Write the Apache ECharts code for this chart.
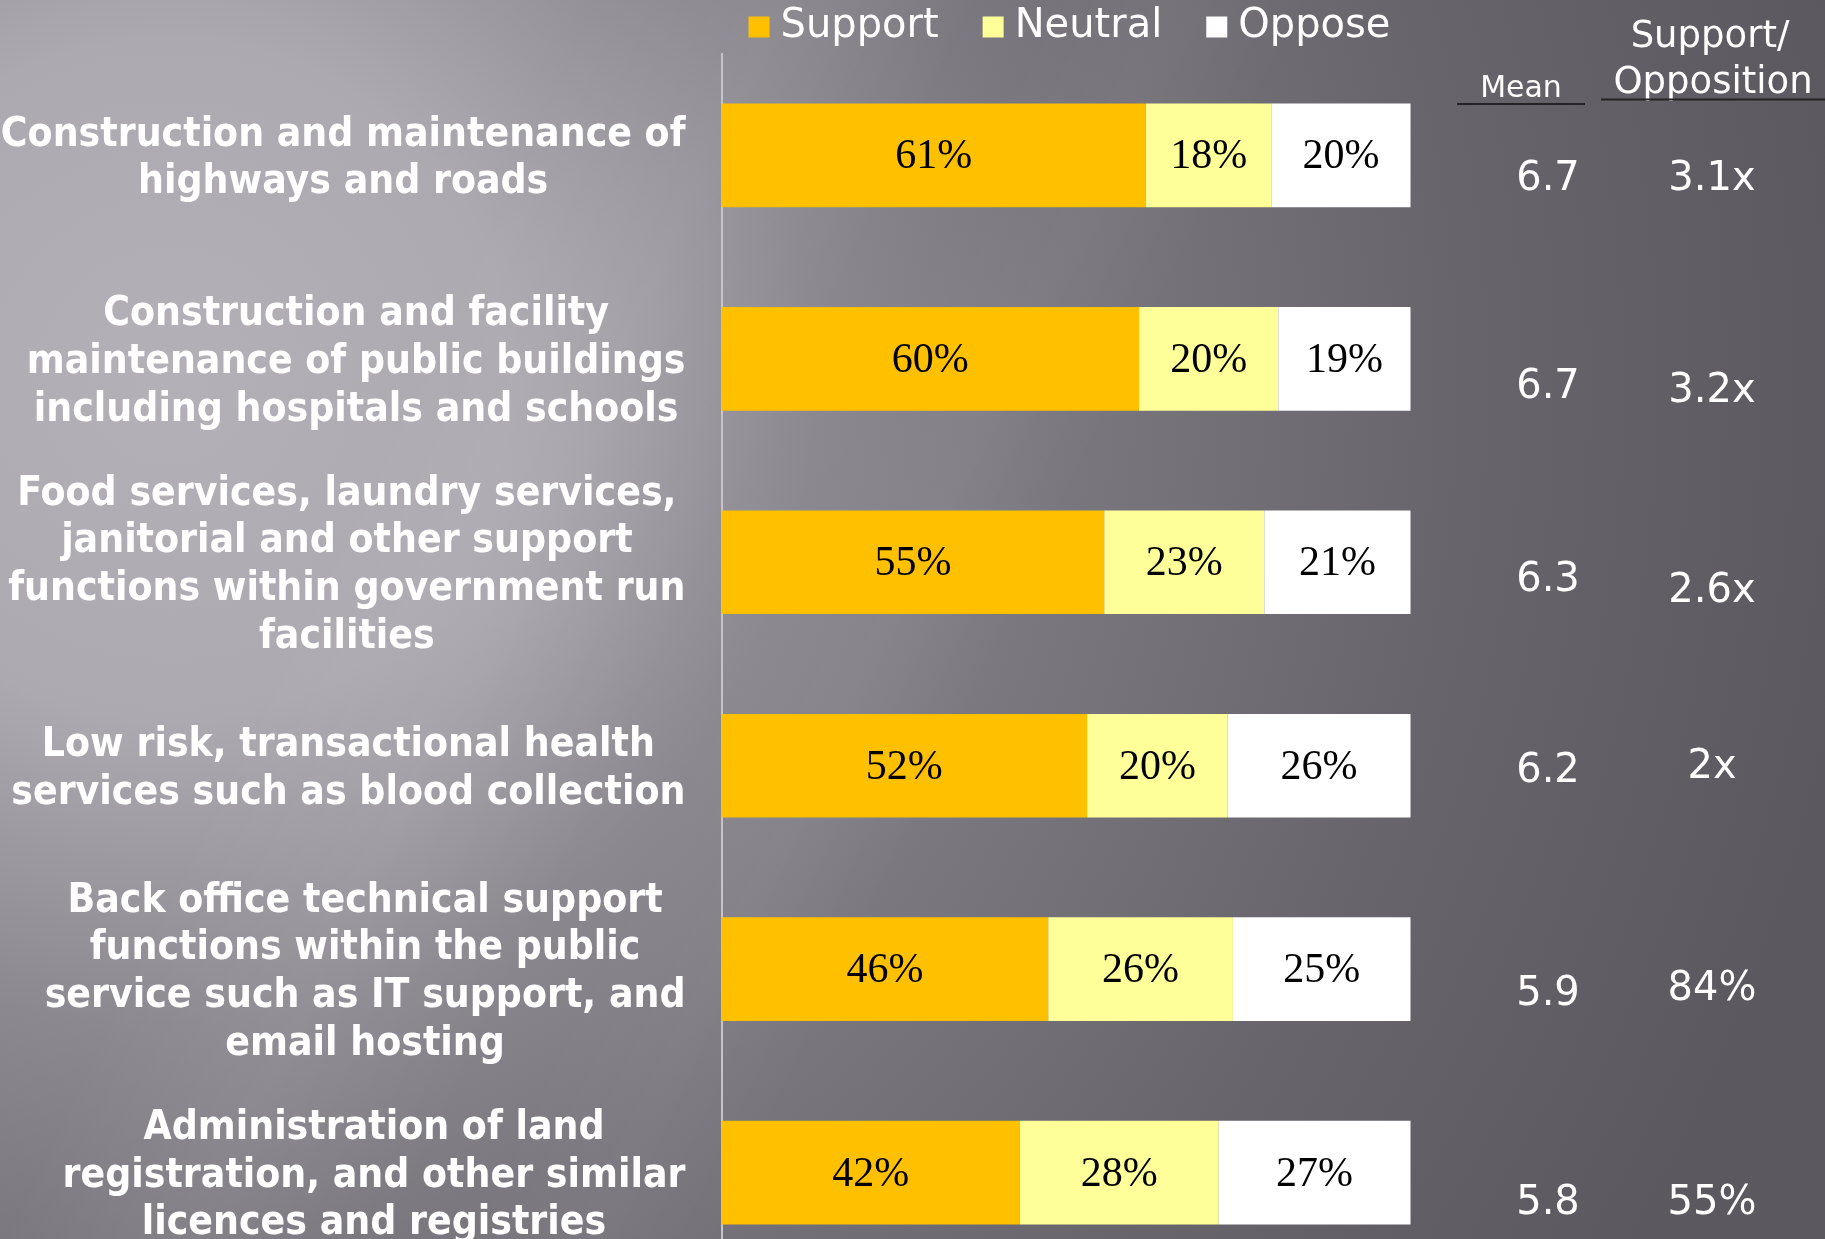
<!DOCTYPE html>
<html>
<head>
<meta charset="utf-8">
<script src="https://cdn.jsdelivr.net/npm/echarts@6/dist/echarts.min.js"></script>
<style>
  html, body { margin: 0; padding: 0; background: #6e6c72; }
  #chart { width: 1825px; height: 1239px; }
</style>
</head>
<body>
<div id="chart"></div>
<script>
// Outsourcing survey: share who support / are neutral / oppose, per service area
const categories = [
  'Construction and maintenance of\nhighways and roads',
  'Construction and facility\nmaintenance of public buildings\nincluding hospitals and schools',
  'Food services, laundry services,\njanitorial and other support\nfunctions within government run\nfacilities',
  'Low risk, transactional health\nservices such as blood collection',
  'Back office technical support\nfunctions within the public\nservice such as IT support, and\nemail hosting',
  'Administration of land\nregistration, and other similar\nlicences and registries'
];
const seriesNames = ['Support', 'Neutral', 'Oppose'];
const support = [61, 60, 55, 52, 46, 42];
const neutral = [18, 20, 23, 20, 26, 28];
const oppose  = [20, 19, 21, 26, 25, 27];
const means   = [6.7, 6.7, 6.3, 6.2, 5.9, 5.8];
const ratios  = ['3.1x', '3.2x', '2.6x', '2x', '84%', '55%'];

// Layout of the side columns (pixel rows of the Mean and Support/Opposition texts)
const meanRowY  = [180, 388, 581, 772, 995, 1204];
const ratioRowY = [180, 392, 592, 768, 990, 1204];
const MEAN_X = 1548, RATIO_X = 1712;

const colors = ['#FFC000', '#FFFF99', '#FFFFFF'];
const raw = [support, neutral, oppose];
const totals = support.map((s, i) => s + neutral[i] + oppose[i]);

const sansFont = '"DejaVu Sans Condensed", "DejaVu Sans", sans-serif';
const plainFont = '"DejaVu Sans", sans-serif';

const chart = echarts.init(document.getElementById('chart'), null, { renderer: 'canvas' });

// Each row is drawn as a 100% stacked bar; labels show the surveyed percentages.
const series = raw.map((vals, k) => ({
  name: seriesNames[k],
  type: 'bar',
  stack: 'total',
  barWidth: 103.6,
  itemStyle: { color: colors[k] },
  label: {
    show: true,
    position: 'inside',
    offset: [0, 2],
    color: '#000',
    fontFamily: '"Liberation Serif", "Times New Roman", serif',
    fontSize: 42,
    formatter: p => raw[k][p.dataIndex] + '%'
  },
  emphasis: { disabled: true },
  data: vals.map((v, i) => v / totals[i] * 100)
}));

const W = 1825, H = 1239;
const bg = {
  type: 'rect', z: -100, silent: true,
  shape: { x: 0, y: 0, width: W, height: H },
  style: {
    fill: new echarts.graphic.RadialGradient(170, 380, 1700, [
      { offset: 0,    color: '#b3b0b7' },
      { offset: 0.20, color: '#aca9b0' },
      { offset: 0.38, color: '#8b888f' },
      { offset: 0.52, color: '#7a777e' },
      { offset: 0.76, color: '#67656b' },
      { offset: 1,    color: '#5b595f' }
    ], true)
  }
};
// soft diagonal light bands running from upper right to lower left
const band = (cx, cy, half, a) => {
  const nx = 0.903, ny = 0.43;
  return {
    type: 'rect', z: -99, silent: true,
    shape: { x: 0, y: 0, width: W, height: H },
    style: {
      fill: new echarts.graphic.LinearGradient(
        cx - nx * half, cy - ny * half, cx + nx * half, cy + ny * half, [
          { offset: 0, color: 'rgba(255,255,255,0)' },
          { offset: 0.5, color: 'rgba(255,255,255,' + a + ')' },
          { offset: 1, color: 'rgba(255,255,255,0)' }
        ], true)
    }
  };
};
const bands = [band(480, 640, 180, 0.06), band(820, 760, 120, 0.03)];

const textEl = (text, x, y, size) => ({
  type: 'text', silent: true, x: x, y: y,
  style: { text: text, fill: '#fff', fontSize: size, fontFamily: plainFont, align: 'center', verticalAlign: 'middle' }
});

const sideTexts = [];
means.forEach((m, i) => sideTexts.push(textEl(m.toFixed(1), MEAN_X, meanRowY[i], 40)));
ratios.forEach((r, i) => sideTexts.push(textEl(r, RATIO_X, ratioRowY[i], 40)));
sideTexts.push(textEl('Mean', 1521, 89, 30));
sideTexts.push(textEl('Support/', 1710, 37, 37));
sideTexts.push(textEl('Opposition', 1713, 83, 37));
sideTexts.push({ type: 'line', silent: true, shape: { x1: 1457, y1: 104, x2: 1585, y2: 104 }, style: { stroke: '#232225', lineWidth: 2 } });
sideTexts.push({ type: 'line', silent: true, shape: { x1: 1601, y1: 99.5, x2: 1825, y2: 99.5 }, style: { stroke: '#232225', lineWidth: 2 } });

chart.setOption({
  animation: false,
  graphic: [bg].concat(bands, sideTexts),
  legend: {
    data: seriesNames,
    left: 743.5, top: 2,
    icon: 'rect', itemWidth: 21, itemHeight: 21, itemGap: 44,
    selectedMode: false,
    textStyle: { color: '#fff', fontSize: 40, fontFamily: plainFont, padding: [0, 0, 0, 6] }
  },
  grid: { left: 721.5, top: 53.7, width: 689, height: 1220.6, containLabel: false, outerBoundsMode: 'none' },
  xAxis: { type: 'value', min: 0, max: 100, show: false },
  yAxis: {
    type: 'category', inverse: true, data: categories,
    axisTick: { show: false },
    axisLine: { show: true, lineStyle: { color: '#c6c4c9', width: 2 } },
    axisLabel: {
      align: 'right', margin: 36, padding: [7, 0, 0, 0],
      // each block sits flush right against the axis, its lines centred within it
      formatter: v => v.split('\n').map(line => '{c|' + line + '}').join('\n'),
      rich: {
        c: {
          align: 'center', color: '#fff', fontFamily: sansFont, fontWeight: 'bold',
          fontSize: 40.5, lineHeight: 47.7
        }
      }
    }
  },
  series: series
});
</script>
</body>
</html>
